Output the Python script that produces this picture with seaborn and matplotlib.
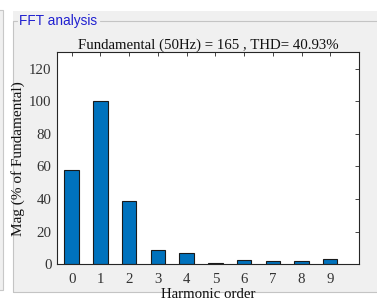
import matplotlib
matplotlib.use("Agg")
import matplotlib.pyplot as plt
import seaborn as sns
import pandas as pd
from matplotlib.patches import Rectangle
from matplotlib.lines import Line2D

harmonics = [0, 1, 2, 3, 4, 5, 6, 7, 8, 9]
magnitude = [57.7, 100.0, 38.7, 8.7, 6.7, 0.8, 2.4, 1.8, 1.8, 3.0]
title_text = "Fundamental (50Hz) = 165 , THD= 40.93%"
panel_title = "FFT analysis"
xlabel_text = "Harmonic order"
ylabel_text = "Mag (% of Fundamental)"
yticks = [0, 20, 40, 60, 80, 100, 120]

sns.set_theme(style="white")
plt.rcParams['font.family'] = ['Liberation Serif', 'DejaVu Serif']

W, H = 377, 305
fig = plt.figure(figsize=(W / 100, H / 100), dpi=100)
fig.patch.set_facecolor('white')

def fx(px):
    return px / W

def fy(py):
    return 1 - py / H

# left strip panel
fig.patches.append(Rectangle((fx(-2), fy(290)), fx(5), fy(10) - fy(290),
                             transform=fig.transFigure, facecolor='#f0f0f0',
                             edgecolor='#c8c8c8', linewidth=0.8, zorder=-2))
# group box fill
fig.patches.append(Rectangle((fx(13), fy(292)), fx(380) - fx(13), fy(11) - fy(292),
                             transform=fig.transFigure, facecolor='#f0f0f0',
                             edgecolor='none', zorder=-2))
# group box borders
bc = '#c4c4c4'
for xs, ys in [([13, 13], [20.5, 292]), ([13, 380], [292, 292]),
               ([13, 17], [20.5, 20.5]), ([100, 380], [20.5, 20.5])]:
    fig.lines.append(Line2D([fx(v) for v in xs], [fy(v) for v in ys],
                            transform=fig.transFigure, color=bc, linewidth=0.8, zorder=-1))

fig.text(fx(19), fy(20.5), panel_title, family=['Liberation Sans', 'DejaVu Sans'],
         fontsize=9.8, color='#2020d0', ha='left', va='center')

ax = fig.add_axes([fx(57.3), fy(264.3), fx(359) - fx(57.3), fy(52.3) - fy(264.3)])
ax.set_zorder(5)
ax.set_facecolor('white')

df = pd.DataFrame({"harmonic": harmonics, "mag": magnitude})
sns.barplot(data=df, x="harmonic", y="mag", ax=ax, color='#0072BD', saturation=1,
            width=0.5, edgecolor='#1a1a1a', linewidth=0.8)

ax.set_xlim(-0.5, 10)
ax.set_ylim(0, 130)
ax.set_yticks(yticks)
ax.set_xticks(range(len(harmonics)))
ax.set_xticklabels([str(h) for h in harmonics])
ax.tick_params(direction='in', length=3, width=0.6, colors='#262626',
               top=True, right=True, labelsize=10.7, pad=4)
ax.tick_params(axis='x', pad=6)
for lbl in ax.get_xticklabels() + ax.get_yticklabels():
    lbl.set_color('#333333')
for s in ax.spines.values():
    s.set_color('#262626')
    s.set_linewidth(0.8)
    s.set_visible(True)

ax.set_title(title_text, fontsize=10.7, color='#111111', pad=2.5)
ax.set_xlabel(xlabel_text, fontsize=10.7, color='#111111', labelpad=2)
ax.set_ylabel(ylabel_text, fontsize=11, color='#111111', labelpad=3)

fig.savefig("out.png", dpi=100)
